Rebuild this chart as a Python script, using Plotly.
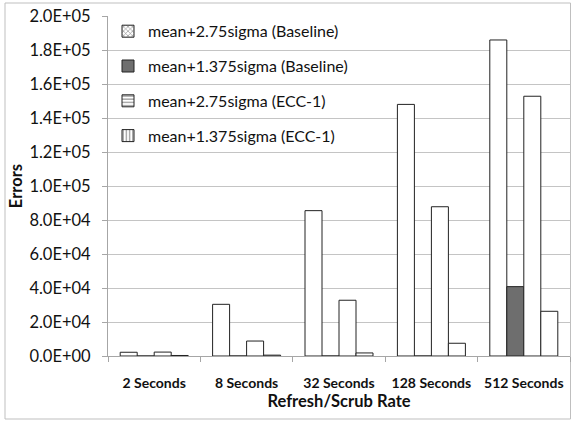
import plotly.graph_objects as go

categories = ["2 Seconds", "8 Seconds", "32 Seconds", "128 Seconds", "512 Seconds"]
series_names = [
    "mean+2.75sigma (Baseline)",
    "mean+1.375sigma (Baseline)",
    "mean+2.75sigma (ECC-1)",
    "mean+1.375sigma (ECC-1)",
]
base_275 = [2200, 30400, 85500, 148000, 185900]
base_1375 = [0, 0, 0, 0, 40800]
ecc_275 = [2300, 8800, 32800, 87800, 152800]
ecc_1375 = [300, 500, 1800, 7500, 26300]
values = [base_275, base_1375, ecc_275, ecc_1375]

tick_vals = [0, 20000, 40000, 60000, 80000, 100000, 120000, 140000, 160000, 180000, 200000]
tick_text = ["0.0E+00", "2.0E+04", "4.0E+04", "6.0E+04", "8.0E+04", "1.0E+05",
             "1.2E+05", "1.4E+05", "1.6E+05", "1.8E+05", "2.0E+05"]

bar_fill = ["white", "#6e6e6e", "white", "white"]
legend_pattern = ["x", "", "-", "|"]

FONT = "Lato"
fig = go.Figure()
for i, (name, vals) in enumerate(zip(series_names, values)):
    fig.add_trace(go.Bar(
        x=categories, y=vals, name=name, offsetgroup=str(i), legendgroup=str(i),
        showlegend=False,
        marker=dict(color=bar_fill[i], line=dict(color="#222222", width=1)),
    ))
for i, name in enumerate(series_names):
    mk = dict(color=bar_fill[i], line=dict(color="#222222", width=1))
    if legend_pattern[i]:
        mk["pattern"] = dict(shape=legend_pattern[i], fgcolor="#111111", size=4, solidity=0.35)
    fig.add_trace(go.Bar(
        x=[categories[0]], y=[None], name=name, offsetgroup=str(i), legendgroup=str(i),
        showlegend=True, marker=mk, hoverinfo="skip",
    ))

fig.update_layout(
    width=572, height=421,
    margin=dict(l=108, r=2, t=16, b=65),
    paper_bgcolor="white", plot_bgcolor="white",
    barmode="group", bargap=0.264, bargroupgap=0,
    font=dict(family=FONT, size=15, color="#111111"),
    showlegend=True,
    legend=dict(
        x=0.0, y=1.005, xanchor="left", yanchor="top",
        bgcolor="rgba(0,0,0,0)", borderwidth=0,
        traceorder="grouped", tracegroupgap=11,
        font=dict(family=FONT, size=16, color="#111111"),
        itemwidth=30,
    ),
    xaxis=dict(
        categoryorder="array", categoryarray=categories,
        showline=True, linecolor="#a6a6a6", linewidth=1,
        ticks="outside", tickson="boundaries", ticklen=5, tickcolor="#a6a6a6",
        ticklabelstandoff=14,
        tickfont=dict(family=FONT, size=14, color="#111111", weight="bold"),
        title=dict(text="<b>Refresh/Scrub Rate</b>", font=dict(family=FONT, size=16.5), standoff=0),
        showgrid=False,
    ),
    yaxis=dict(
        range=[0, 200000], tickvals=tick_vals, ticktext=tick_text,
        showline=True, linecolor="#a6a6a6", linewidth=1,
        ticks="outside", ticklen=5, tickcolor="#a6a6a6",
        ticklabelstandoff=8,
        showgrid=True, gridcolor="#c4c4c4", gridwidth=1,
        tickfont=dict(family=FONT, size=16.5, color="#111111"),
        title=dict(text="<b>Errors</b>", font=dict(family=FONT, size=16.5), standoff=2),
        zeroline=False,
    ),
)

fig.add_shape(type="rect", xref="paper", yref="paper",
              x0=(5 - 108) / 462, x1=(570.5 - 108) / 462,
              y0=(356 - 419) / 340, y1=(356 - 3) / 340,
              line=dict(color="#bfbfbf", width=1), fillcolor="rgba(0,0,0,0)", layer="below")

fig.write_html("out.html", config={"displayModeBar": False},
               post_script="document.body.style.margin='0px';")
